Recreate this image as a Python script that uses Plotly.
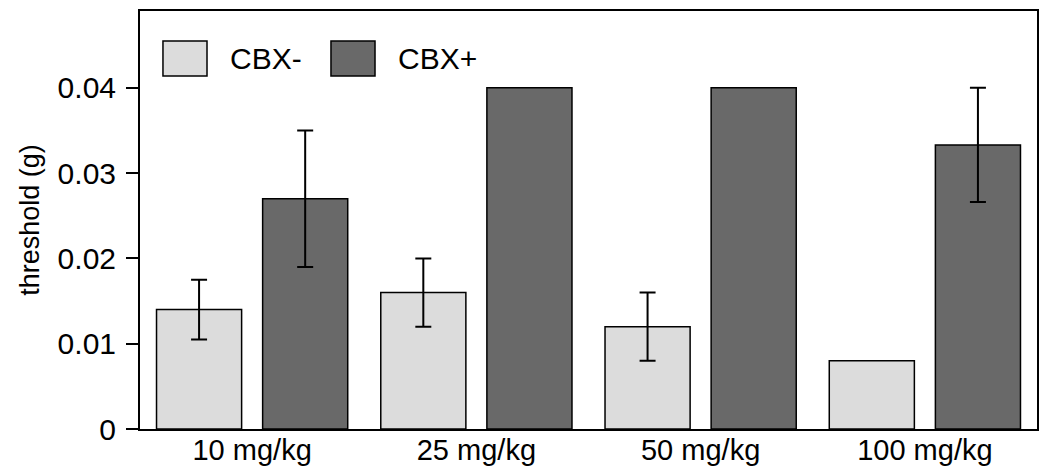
import plotly.graph_objects as go

categories = ["10 mg/kg", "25 mg/kg", "50 mg/kg", "100 mg/kg"]
series_names = ["CBX-", "CBX+"]
cbx_minus = [0.014, 0.016, 0.012, 0.008]
cbx_minus_err = [0.0035, 0.004, 0.004, None]
cbx_plus = [0.027, 0.040, 0.040, 0.0333]
cbx_plus_err = [0.008, None, None, 0.0067]
y_tick_vals = [0, 0.01, 0.02, 0.03, 0.04]
y_tick_text = ["0", "0.01", "0.02", "0.03", "0.04"]

colors = ["#dcdcdc", "#696969"]
FONT = "Liberation Sans, Arial, Helvetica, sans-serif"


def err_array(errs):
    # missing errors -> "NaN" so plotly.js skips the bar (null would become 0)
    return ["NaN" if e is None else e for e in errs]


fig = go.Figure()
for name, vals, errs, col in [
    (series_names[0], cbx_minus, cbx_minus_err, colors[0]),
    (series_names[1], cbx_plus, cbx_plus_err, colors[1]),
]:
    fig.add_trace(go.Bar(
        x=categories, y=vals, name=name,
        marker=dict(color=col, line=dict(color="black", width=1.5)),
        error_y=dict(type="data", array=err_array(errs), visible=True,
                     color="black", thickness=2, width=8),
        showlegend=False,
    ))

# custom legend (large swatches)
legend_items = [
    (series_names[0], colors[0], 0.0256, 0.0747, 0.0981),
    (series_names[1], colors[1], 0.2129, 0.2620, 0.2854),
]
for name, col, x0, x1, xt in legend_items:
    fig.add_shape(type="rect", xref="paper", yref="paper",
                  x0=x0, x1=x1, y0=0.8445, y1=0.9282,
                  fillcolor=col, line=dict(color="black", width=1.5))
    fig.add_annotation(x=xt, y=0.8864, xref="paper", yref="paper",
                       text=name, showarrow=False, xanchor="left", yanchor="middle",
                       font=dict(family=FONT, size=30, color="black"))

fig.update_layout(
    width=1050, height=470,
    margin=dict(l=140, r=13, t=11, b=41),
    paper_bgcolor="white", plot_bgcolor="white",
    barmode="group", bargap=0.0536, bargroupgap=0.198,
    font=dict(family=FONT, color="black"),
)
fig.update_xaxes(
    range=[-0.5, 3.5], showline=True, mirror=True, linecolor="black", linewidth=2,
    ticks="", showgrid=False, tickfont=dict(family=FONT, size=29, color="black"),
    ticklabelstandoff=-6, automargin=False,
)
fig.update_yaxes(
    range=[0, 0.049], showline=True, mirror=True, linecolor="black", linewidth=2,
    ticks="outside", ticklen=12, tickwidth=2, tickcolor="black",
    tickvals=y_tick_vals, ticktext=y_tick_text, showgrid=False, zeroline=False,
    tickfont=dict(family=FONT, size=30, color="black"), ticklabelstandoff=4,
    title=dict(text="threshold (g)", font=dict(family=FONT, size=27, color="black"), standoff=10),
    automargin=False,
)

fig.write_html(
    "out.html",
    config={"displayModeBar": False},
    post_script="document.body.style.margin='0';document.body.style.padding='0';",
)
